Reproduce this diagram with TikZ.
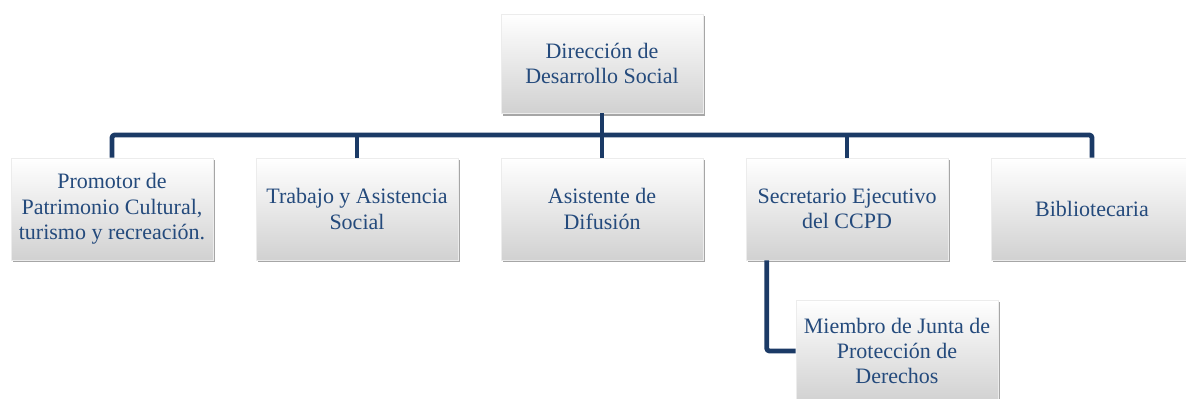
\documentclass[tikz,border=0pt]{standalone}
\usepackage{fontspec}
\setmainfont{Liberation Serif}
\usetikzlibrary{shadows}
\definecolor{navy}{HTML}{1B3A66}
\definecolor{txtblue}{HTML}{244A7C}
\tikzset{
  x=0.75pt, y=-0.75pt,
  box/.style={draw=gray!15, line width=0.4pt, shading=axis, top color=white, bottom color=gray!36,
    minimum width=151.5pt, minimum height=76.5pt, align=center, text=txtblue,
    font=\fontsize{16.5}{19}\selectfont, inner sep=1pt,
    drop shadow={shadow xshift=1.2pt, shadow yshift=-1.8pt, opacity=0.35, fill=black}},
  conn/.style={draw=navy, line width=3.6pt, line join=round, rounded corners=2pt}
}
\begin{document}
\begin{tikzpicture}
\useasboundingbox (0,0) rectangle (1186,399);
\node[box, minimum height=74.5pt] (top) at (602,63.5) {Dirección de\\Desarrollo Social};
\node[box] (c1) at (112,209) {Promotor de\\Patrimonio Cultural,\\turismo y recreación.};
\node[box] (c2) at (357,209) {Trabajo y Asistencia\\Social};
\node[box] (c3) at (602,209) {Asistente de\\Difusión};
\node[box] (c4) at (847,209) {Secretario Ejecutivo\\del CCPD};
\node[box] (c5) at (1092,209) {Bibliotecaria};
\node[box] (sub) at (897,351) {Miembro de Junta de\\Protección de\\Derechos};
\coordinate (bus) at (602,135);
\draw[conn] (top.south) -- (top.south |- bus);
\draw[conn] (c1.north) -- (c1.north |- bus) -- (c5.north |- bus) -- (c5.north);
\draw[conn] (c2.north) -- (c2.north |- bus);
\draw[conn] (c3.north) -- (c3.north |- bus);
\draw[conn] (c4.north) -- (c4.north |- bus);
\draw[conn] ([xshift=15.75pt]c4.south west) |- (sub.west);
\end{tikzpicture}
\end{document}
